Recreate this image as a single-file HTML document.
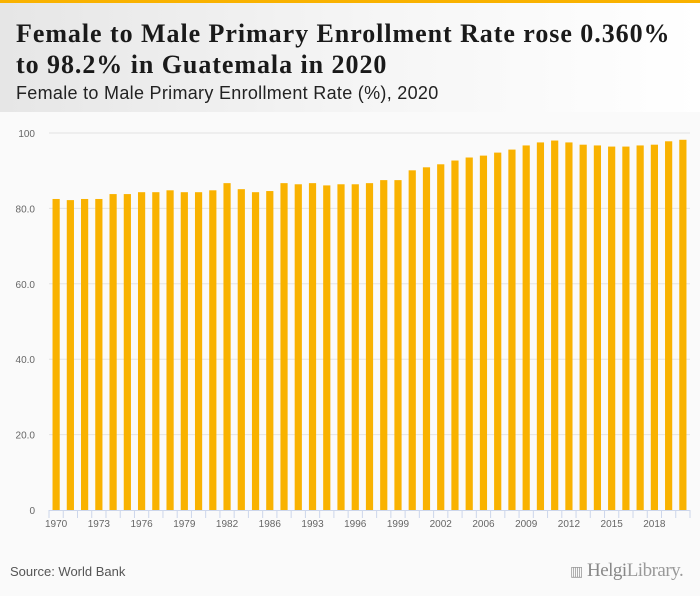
<!DOCTYPE html>
<html><head><meta charset="utf-8"><style>
body{margin:0;width:700px;height:596px;background:#fafafa;font-family:"Liberation Sans",sans-serif;overflow:hidden;position:relative}
#hdr{position:absolute;left:0;top:0;width:700px;height:112px;background:linear-gradient(90deg,#e6e6e6 0%,#f6f6f6 55%,#fff 100%);border-top:3px solid #f9b200;box-sizing:border-box}
#title{position:absolute;left:16px;top:15px;font-family:"Liberation Serif",serif;font-weight:bold;font-size:26px;line-height:31px;color:#1a1a1a;letter-spacing:0.95px;white-space:nowrap}
#sub{position:absolute;left:16px;top:80px;font-size:18px;color:#222;letter-spacing:0.3px}
#src{position:absolute;left:10px;top:564px;font-size:13px;color:#555}
#logo{position:absolute;left:570px;top:560px;font-family:"Liberation Serif",serif;font-size:19px;color:#999;letter-spacing:-0.5px}
svg{position:absolute;left:0;top:0}
</style></head><body>
<div id="hdr">
<div id="title">Female to Male Primary Enrollment Rate rose 0.360%<br>to 98.2% in Guatemala in 2020</div>
<div id="sub">Female to Male Primary Enrollment Rate (%), 2020</div>
</div>
<svg id="chart" width="700" height="596"></svg>
<div id="src">Source: World Bank</div>
<div id="logo"><span style="font-size:14px">▥</span> <b style="font-weight:normal;color:#888">Helgi</b>Library.</div>
<script>
const years=[1970,1971,1972,1973,1974,1975,1976,1977,1978,1979,1980,1981,1982,1983,1985,1986,1988,1991,1993,1994,1995,1996,1997,1998,1999,2000,2001,2002,2003,2004,2006,2007,2008,2009,2010,2011,2012,2013,2014,2015,2016,2017,2018,2019,2020];
const values=[82.5,82.2,82.5,82.5,83.8,83.8,84.3,84.3,84.8,84.3,84.3,84.8,86.7,85.1,84.3,84.6,86.7,86.4,86.7,86.1,86.4,86.4,86.7,87.5,87.5,90.1,90.9,91.7,92.7,93.5,94.0,94.8,95.6,96.7,97.5,98.0,97.5,96.9,96.7,96.4,96.4,96.7,96.9,97.8,98.2];
const yTicks=[0,20,40,60,80,100];
const yTickLabels=["0","20.0","40.0","60.0","80.0","100"];
const NS="http://www.w3.org/2000/svg";
const svg=document.getElementById('chart');
const X0=49,X1=690,Y0=510,Y100=133;
const band=(X1-X0)/years.length;
const xc=i=>X0+band*(i+0.5);
const y=v=>Y0-(v/100)*(Y0-Y100);
function mk(t,a){const e=document.createElementNS(NS,t);for(const k in a)e.setAttribute(k,a[k]);svg.appendChild(e);return e;}
yTicks.forEach((t,i)=>{
  if(t>0){const g=mk('line',{x1:X0,x2:X1,y1:y(t),y2:y(t),stroke:'#e3e3e3','stroke-width':1});
  
  }
  const l=mk('text',{x:35,y:y(t)+4,'text-anchor':'end','font-size':10,fill:'#666','font-family':'Liberation Sans, sans-serif'});
  l.textContent=yTickLabels[i];
  
  
});
values.forEach((v,i)=>{
  const r=mk('rect',{x:xc(i)-3.6,y:y(v),width:7.2,height:Y0-y(v),fill:'#f9b200'});
  
  
});
const ax=mk('line',{x1:X0,x2:X1,y1:Y0+0.5,y2:Y0+0.5,stroke:'#ccd6eb'});


for(let i=0;i<=years.length;i++){
  const tk=mk('line',{x1:X0+band*i,x2:X0+band*i,y1:Y0,y2:Y0+8,stroke:'#ccd6eb'});
  
  
}
years.forEach((yr,i)=>{
  if(i%3!==0)return;
  const l=mk('text',{x:xc(i),y:Y0+17,'text-anchor':'middle','font-size':10,fill:'#666','font-family':'Liberation Sans, sans-serif'});
  l.textContent=yr;
  
  
});
</script>
</body></html>
